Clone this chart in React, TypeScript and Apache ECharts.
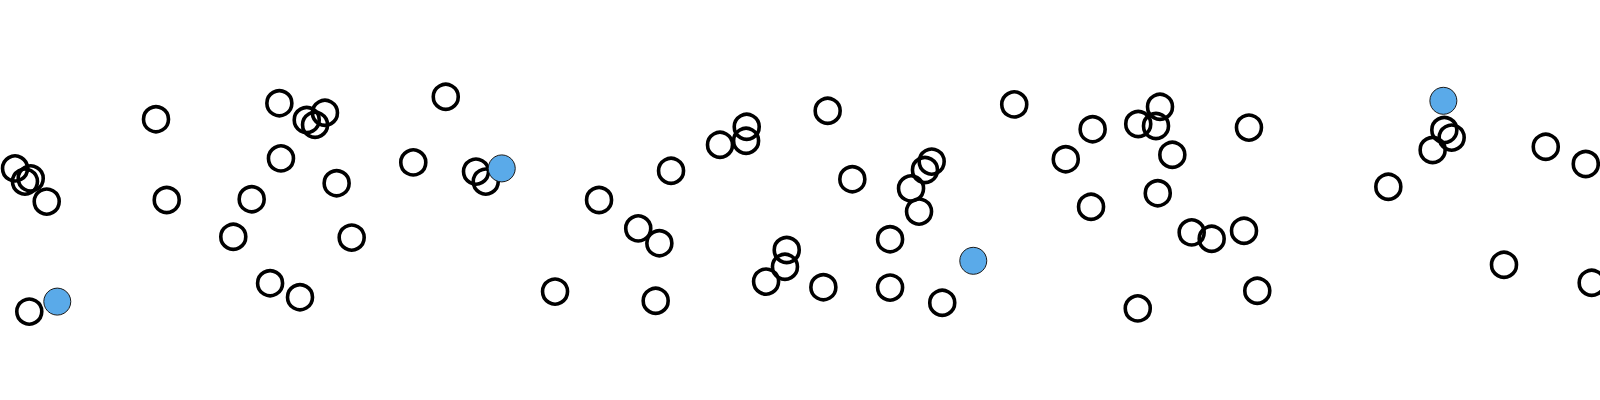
import React, { useEffect, useRef } from "react";
import * as echarts from "echarts";

// Plain (outlined) points: x and y on a 0–100 scale
const plainX = [
  0.94, 1.92, 1.56, 2.92, 1.83, 9.75, 10.42, 17.46, 19.17, 20.31, 19.69, 17.56, 21.04, 15.73, 14.58, 21.98, 16.88, 18.75,
  27.86, 25.83, 29.75, 30.36, 37.44, 39.89, 41.21, 34.69, 40.98, 41.94, 45.0, 46.67, 46.63, 49.17, 49.06, 47.88,
  51.73, 53.27, 58.23, 57.81, 56.94, 57.44, 55.63, 51.46, 55.63, 58.89, 63.39, 68.29, 66.61, 68.19, 71.14, 72.5,
  72.25, 73.27, 72.36, 71.11, 74.48, 75.73, 78.06, 77.75, 78.58, 86.77, 90.27, 90.73, 89.54, 96.61, 99.11, 94.0, 99.48,
];
const plainY = [
  57.9, 55.4, 54.6, 49.6, 22.1, 70.2, 50.0, 74.2, 70.0, 71.8, 68.8, 60.4, 54.2, 50.2, 40.8, 40.6, 29.2, 25.7,
  75.8, 59.4, 57.1, 54.6, 50.0, 42.9, 39.2, 27.1, 24.8, 57.3, 63.8, 68.3, 64.8, 37.5, 33.3, 29.6,
  72.3, 55.2, 59.6, 57.5, 52.9, 47.1, 40.2, 28.2, 28.1, 24.3, 73.9, 67.7, 60.2, 48.3, 69.0, 73.3,
  68.5, 61.3, 51.7, 22.9, 41.9, 40.3, 68.1, 42.3, 27.3, 53.3, 67.5, 65.6, 62.5, 63.3, 59.0, 33.8, 29.3,
];

// Highlighted (filled blue) points
const highlightX = [3.58, 31.36, 60.83, 90.21];
const highlightY = [24.6, 57.9, 34.8, 74.8];

export default function App() {
  const ref = useRef<HTMLDivElement>(null);

  useEffect(() => {
    if (!ref.current) return;
    const chart = echarts.init(ref.current, undefined, { renderer: "svg" });
    const plain = plainX.map((x, i) => [x, plainY[i]]);
    const highlight = highlightX.map((x, i) => [x, highlightY[i]]);
    chart.setOption({
      animation: false,
      grid: { left: 0, right: 0, top: 0, bottom: 0 },
      xAxis: { type: "value", min: 0, max: 100, show: false },
      yAxis: { type: "value", min: 0, max: 100, show: false },
      series: [
        {
          type: "scatter",
          data: plain,
          symbol: "circle",
          symbolSize: 25,
          clip: false,
          itemStyle: { color: "transparent", borderColor: "#000000", borderWidth: 3.6, opacity: 1 },
        },
        {
          type: "scatter",
          data: highlight,
          symbol: "circle",
          symbolSize: 27,
          clip: false,
          itemStyle: { color: "#5aaae9", borderColor: "#1a1a1a", borderWidth: 1, opacity: 1 },
        },
      ],
    });
    return () => chart.dispose();
  }, []);

  return (
    <div
      ref={ref}
      style={{ position: "absolute", left: 0, top: 0, width: 1600, height: 400 }}
    />
  );
}
